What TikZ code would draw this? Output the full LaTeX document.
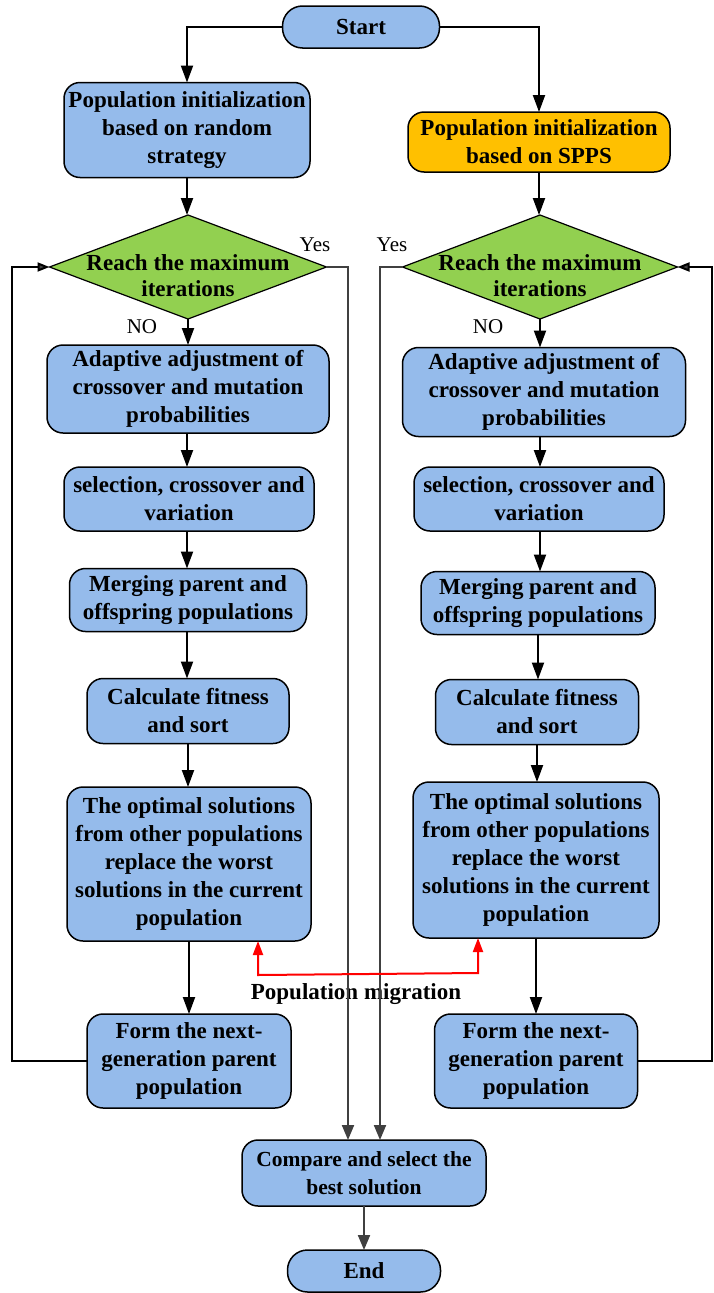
\documentclass[tikz,border=0pt]{standalone}
\usepackage{fontspec}
\setmainfont{Liberation Serif}
\usetikzlibrary{shapes.geometric,arrows.meta}
\definecolor{boxblue}{HTML}{95BBEB}
\definecolor{boxorange}{HTML}{FFC000}
\definecolor{diagreen}{HTML}{92D050}
\definecolor{lnegrey}{HTML}{404040}
\begin{document}
\begin{tikzpicture}[x=1pt,y=-1pt,
 box/.style={draw=black, line width=1.5pt, fill=boxblue, rounded corners=16pt, align=center,
   font=\fontsize{23}{28}\selectfont\bfseries, inner sep=2pt, outer sep=0pt},
 capsule/.style={box, rounded corners=20pt},
 dia/.style={draw=black, line width=1.2pt, fill=diagreen, diamond, inner sep=0pt, outer sep=0pt},
 diatext/.style={align=center, font=\fontsize{23}{26}\selectfont\bfseries, inner sep=0pt},
 arr/.style={line width=2pt, -{Triangle[length=17pt,width=12pt]}},
 garr/.style={line width=2pt, draw=lnegrey, -{Triangle[length=15pt,width=12pt,fill=lnegrey]}},
 looparr/.style={line width=2pt, draw=black, -{Triangle[length=12pt,width=9pt,fill=lnegrey]}},
 lab/.style={font=\fontsize{21}{24}\selectfont, inner sep=0pt},
 miglab/.style={font=\fontsize{23}{26}\selectfont\bfseries, inner sep=0pt},
 mig/.style={draw=red, line width=2pt, {Triangle[length=14pt,width=10pt,fill=red]}-{Triangle[length=14pt,width=10pt,fill=red]}}
]
\fill[white] (0,0) rectangle (713,1293);
\useasboundingbox (0,0) rectangle (713,1293);

% nodes
\node[capsule, minimum width=157pt, minimum height=42pt] (start) at (361,27) {Start};
\node[box, minimum width=246pt, minimum height=95pt] (l1) at (187,130) {Population initialization\\based on random\\strategy};
\node[box, fill=boxorange, minimum width=262pt, minimum height=60pt] (r1) at (539,142) {Population initialization\\based on SPPS};

\node[dia, minimum width=277pt, minimum height=104pt] (d1) at (188,267) {};
\node[diatext] (d1t) at (188,276) {Reach the maximum\\iterations};
\node[dia, minimum width=275pt, minimum height=104pt] (d2) at (540,267) {};
\node[diatext] (d2t) at (540,276) {Reach the maximum\\iterations};

\node[box, minimum width=282pt, minimum height=88pt] (l2) at (188,389) {Adaptive adjustment of\\crossover and mutation\\probabilities};
\node[box, minimum width=283pt, minimum height=89pt] (r2) at (544,392) {Adaptive adjustment of\\crossover and mutation\\probabilities};

\node[box, minimum width=250pt, minimum height=64pt] (l3) at (189,499) {selection, crossover and\\variation};
\node[box, minimum width=250pt, minimum height=64pt] (r3) at (539,499) {selection, crossover and\\variation};

\node[box, minimum width=237pt, minimum height=63pt] (l4) at (188,600) {Merging parent and\\offspring populations};
\node[box, minimum width=234pt, minimum height=63pt] (r4) at (538,603) {Merging parent and\\offspring populations};

\node[box, minimum width=202pt, minimum height=65pt] (l5) at (188,711) {Calculate fitness\\and sort};
\node[box, minimum width=203pt, minimum height=65pt] (r5) at (537,712) {Calculate fitness\\and sort};

\node[box, minimum width=244pt, minimum height=154pt] (l6) at (189,864) {The optimal solutions\\from other populations\\replace the worst\\solutions in the current\\population};
\node[box, minimum width=246pt, minimum height=156pt] (r6) at (536,860) {The optimal solutions\\from other populations\\replace the worst\\solutions in the current\\population};

\node[box, minimum width=204pt, minimum height=94pt] (l7) at (189,1061) {Form the next-\\generation parent\\population};
\node[box, minimum width=203pt, minimum height=94pt] (r7) at (536,1061) {Form the next-\\generation parent\\population};

\node[box, font=\fontsize{21.5}{28}\selectfont\bfseries, minimum width=244pt, minimum height=66pt] (cmp) at (364,1173) {Compare and select the\\best solution};
\node[capsule, minimum width=153pt, minimum height=42pt] (end) at (364,1271) {End};

% labels
\node[lab] (yes1) at (315,245) {Yes};
\node[lab] (yes2) at (392,245) {Yes};
\node[lab] (no1) at (142,327) {NO};
\node[lab] (no2) at (488,327) {NO};
\node[miglab] (migt) at (356,994) {Population migration};

% main flow arrows
\draw[arr] (start.west) -| (l1.north);
\draw[arr] (start.east) -| (r1.north);
\draw[arr] (l1.south) -- (l1.south |- d1.north);
\draw[arr] (r1.south) -- (r1.south |- d2.north);
\draw[arr] (d1.south) -- (d1.south |- l2.north);
\draw[arr] (d2.south) -- (d2.south |- r2.north);
\draw[arr] (l1.south |- l2.south) -- (l1.south |- l3.north);
\draw[arr] (d2.south |- r2.south) -- (d2.south |- r3.north);
\draw[arr] (l1.south |- l3.south) -- (l1.south |- l4.north);
\draw[arr] (d2.south |- r3.south) -- (d2.south |- r4.north);
\draw[arr] (l1.south |- l4.south) -- (l1.south |- l5.north);
\draw[arr] (r4.south) -- (r4.south |- r5.north);
\draw[arr] (l5.south) -- (l5.south |- l6.north);
\draw[arr] (r5.south) -- (r5.south |- r6.north);
\draw[arr] (l6.south) -- (l6.south |- l7.north);
\draw[arr] (r6.south) -- (r6.south |- r7.north);

% Yes lines to compare
\coordinate (yl) at (348,267);
\coordinate (yr) at (380,267);
\draw[garr] (d1.east) -- (yl) -- (yl |- cmp.north);
\draw[garr] (d2.west) -- (yr) -- (yr |- cmp.north);
\draw[garr] (cmp.south) -- (end.north);

% loops
\coordinate (lpl) at (12,1061);
\coordinate (lpr) at (712,1061);
\draw[looparr] (l7.west) -- (lpl) -- (lpl |- d1.west) -- (d1.west);
\draw[looparr] (r7.east) -- (lpr) -- (lpr |- d2.east) -- (d2.east);

% migration
\coordinate (ml) at (258,975);
\coordinate (mr) at (478,973);
\draw[mig] (ml |- l6.south) -- (ml) -- (mr) -- (mr |- r6.south);
\end{tikzpicture}
\end{document}
